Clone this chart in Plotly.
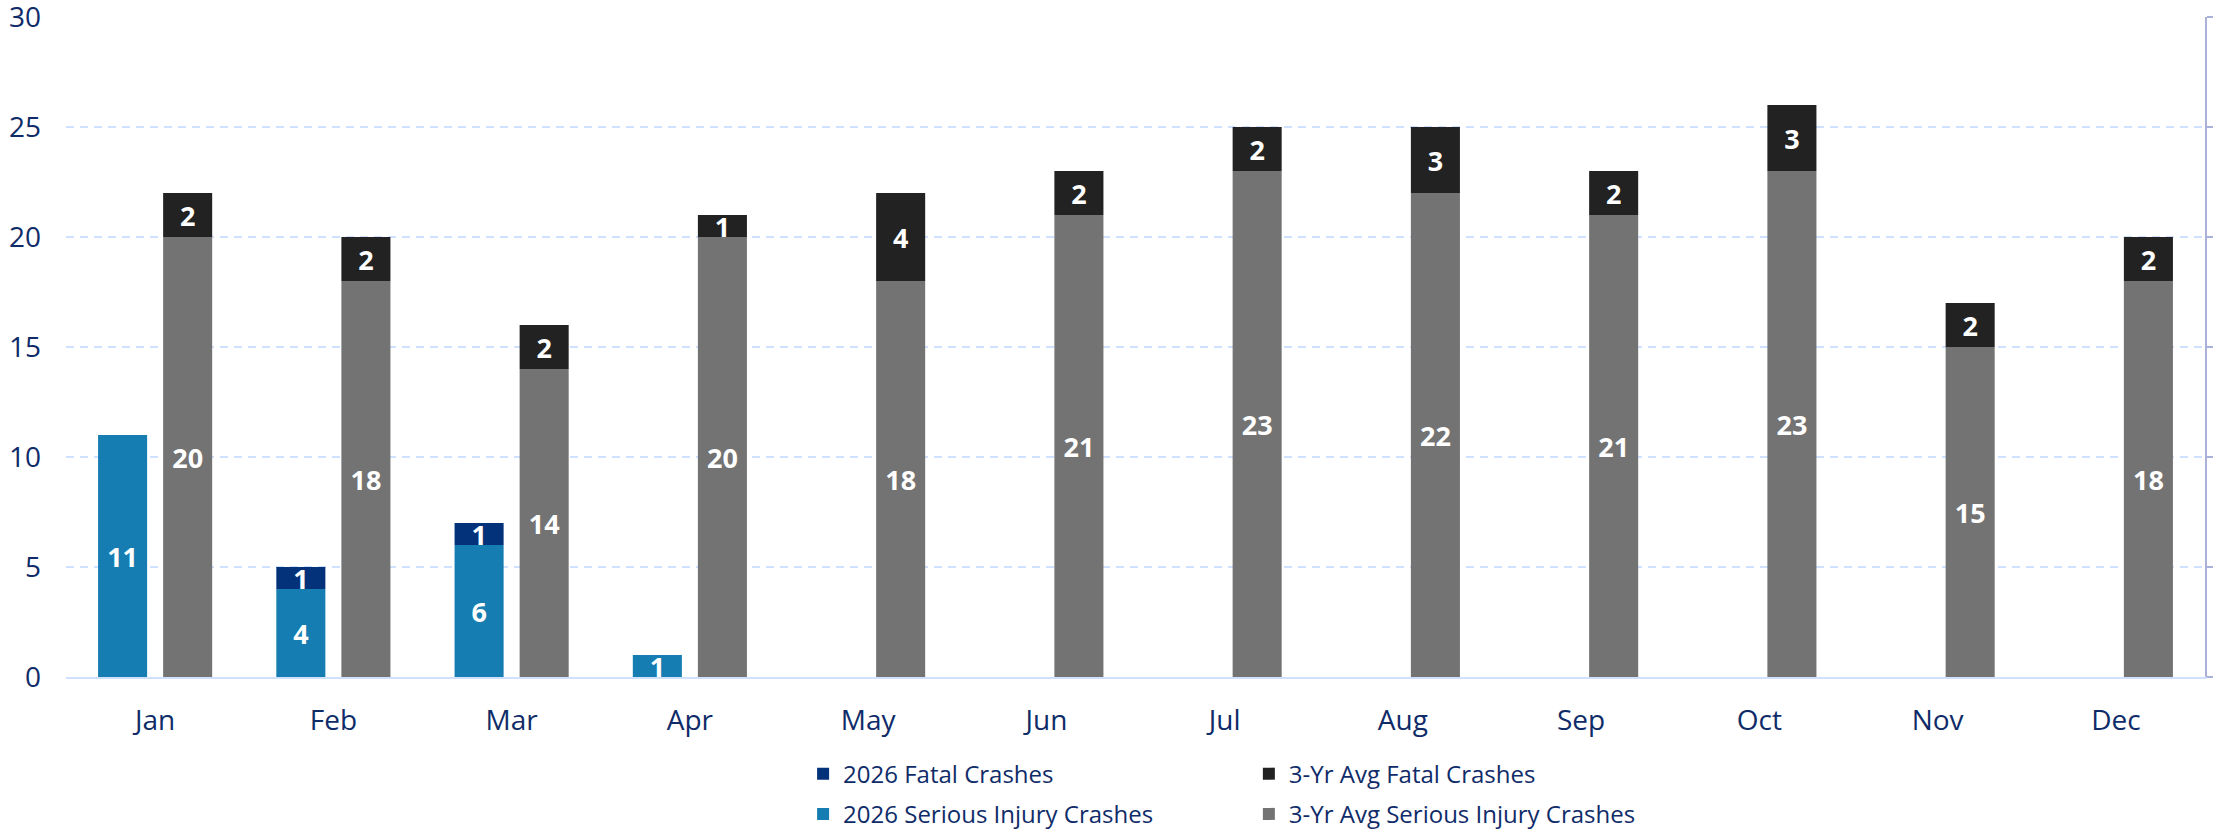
import plotly.graph_objects as go

months = ["Jan", "Feb", "Mar", "Apr", "May", "Jun", "Jul", "Aug", "Sep", "Oct", "Nov", "Dec"]
serious_2026 = [11, 4, 6, 1, None, None, None, None, None, None, None, None]
fatal_2026 = [None, 1, 1, None, None, None, None, None, None, None, None, None]
serious_avg = [20, 18, 14, 20, 18, 21, 23, 22, 21, 23, 15, 18]
fatal_avg = [2, 2, 2, 1, 4, 2, 2, 3, 2, 3, 2, 2]
y_ticks = [0, 5, 10, 15, 20, 25, 30]

NAVY = "#0f2c69"
C_F26 = "#04327a"
C_S26 = "#157db1"
C_FAVG = "#222222"
C_SAVG = "#737373"
GRID = "#cfe1ff"
RAXIS = "#a9b1d9"
FONT = "Open Sans"

def base_of(vals):
    return [v if v is not None else 0 for v in vals]

common = dict(
    textposition="inside",
    insidetextanchor="middle",
    constraintext="none",
    textangle=0,
    textfont=dict(family=FONT, size=27, color="white", weight="bold"),
    texttemplate="%{y}",
    marker_line_width=0,
    hoverinfo="skip",
)

fig = go.Figure()
fig.add_trace(go.Bar(name="2026 Fatal Crashes", x=months, y=fatal_2026, base=base_of(serious_2026),
                     offsetgroup="a", marker_color=C_F26, legend="legend", legendgroup="g1", **common))
fig.add_trace(go.Bar(name="3-Yr Avg Fatal Crashes", x=months, y=fatal_avg, base=base_of(serious_avg),
                     offsetgroup="b", marker_color=C_FAVG, legend="legend2", legendgroup="g3", **common))
fig.add_trace(go.Bar(name="2026 Serious Injury Crashes", x=months, y=serious_2026,
                     offsetgroup="a", marker_color=C_S26, legend="legend", legendgroup="g2", **common))
fig.add_trace(go.Bar(name="3-Yr Avg Serious Injury Crashes", x=months, y=serious_avg,
                     offsetgroup="b", marker_color=C_SAVG, legend="legend2", legendgroup="g4", **common))
# invisible trace so the right-hand axis is drawn
fig.add_trace(go.Scatter(x=months, y=serious_avg, yaxis="y2", mode="lines",
                         line=dict(width=0), opacity=0, showlegend=False, hoverinfo="skip"))

leg_common = dict(
    orientation="v", xanchor="left", yanchor="top",
    font=dict(family=FONT, size=24, color=NAVY),
    traceorder="grouped", tracegroupgap=6, bgcolor="rgba(0,0,0,0)",
)

fig.update_layout(
    width=2213, height=829,
    margin=dict(l=66, r=8, t=17, b=152, autoexpand=False),
    paper_bgcolor="white", plot_bgcolor="white",
    barmode="group", bargap=0.27, bargroupgap=0.246,
    font=dict(family=FONT, color=NAVY),
    showlegend=True,
    legend=dict(x=0.3446, y=-0.113, **leg_common),
    legend2=dict(x=0.553, y=-0.113, **leg_common),
    xaxis=dict(
        range=[-0.5, len(months) - 0.5],
        showline=True, linecolor=GRID, linewidth=2,
        showgrid=False, ticks="", ticklabelstandoff=17,
        tickfont=dict(family=FONT, size=28, color=NAVY),
        automargin=False, fixedrange=True,
    ),
    yaxis=dict(
        range=[0, 30], tickvals=y_ticks,
        showgrid=True, gridcolor=GRID, gridwidth=2, griddash="8px,6px",
        zeroline=False, showline=False, ticks="",
        ticklabelstandoff=24, ticklabeloverflow="allow", automargin=False,
        tickfont=dict(family=FONT, size=28, color=NAVY),
    ),
    yaxis2=dict(
        overlaying="y", side="right", range=[0, 30], tickvals=y_ticks,
        showline=True, linecolor=RAXIS, linewidth=2,
        ticks="outside", ticklen=8, tickwidth=2, tickcolor=RAXIS,
        showticklabels=False, showgrid=False, zeroline=False, automargin=False,
    ),
)

fig.write_html("out.html", config={"displayModeBar": False},
               post_script="document.body.style.margin='0';document.body.style.overflow='hidden';")
